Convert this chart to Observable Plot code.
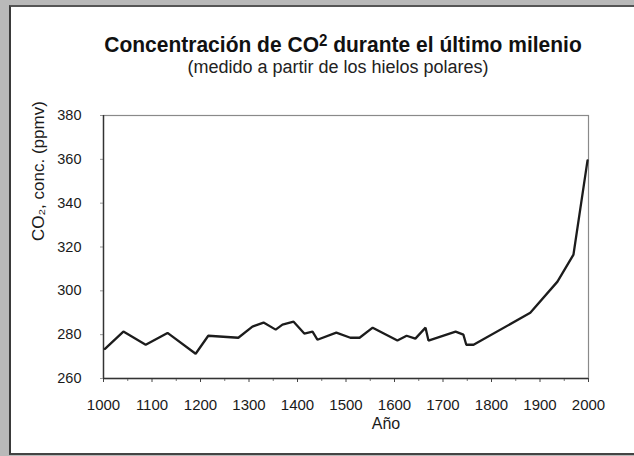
<!DOCTYPE html>
<html>
<head>
<meta charset="utf-8">
<script src="https://cdn.jsdelivr.net/npm/d3@7"></script>
<script src="https://cdn.jsdelivr.net/npm/@observablehq/plot@0.6"></script>
<style>
  body { margin: 0; }
  #page { position: relative; width: 634px; height: 456px; background: #b9b9b9; overflow: hidden; font-family: "Liberation Sans", Arial, sans-serif; }
  #panel { position: absolute; left: 9px; top: 5px; width: 640px; height: 446px; background: #fff; border-left: 2px solid #3a3a3a; border-top: 2px solid #555; border-bottom: 2px solid #444; }
  #title { position: absolute; left: 0; width: 686px; top: 32px; text-align: center; font-weight: bold; font-size: 21px; color: #111; transform: scaleY(1.08); white-space: nowrap; }
  #title sup { font-size: 0.72em; vertical-align: 0.32em; line-height: 0; }
  #subtitle { position: absolute; left: 0; width: 676px; top: 57px; text-align: center; font-size: 18px; color: #222; white-space: nowrap; }
  #chart { position: absolute; left: 0; top: 90px; }
</style>
</head>
<body>
<div id="page">
  <div id="panel"></div>
  <div id="title">Concentración de CO<sup>2</sup> durante el último milenio</div>
  <div id="subtitle">(medido a partir de los hielos polares)</div>
  <div id="chart"></div>
</div>
<script>
const years = [1003, 1041, 1087, 1132, 1190, 1216, 1278, 1307, 1330, 1355, 1369, 1392, 1414, 1431, 1441, 1480, 1509, 1528, 1555, 1606, 1625, 1643, 1664, 1670, 1726, 1742, 1748, 1763, 1880, 1936, 1969, 1998];
const co2 = [273.5, 281.4, 275.4, 280.8, 271.3, 279.5, 278.6, 283.7, 285.5, 282.3, 284.6, 285.9, 280.5, 281.4, 277.7, 280.9, 278.6, 278.6, 283.2, 277.3, 279.5, 278.2, 283.2, 277.3, 281.4, 280.0, 275.4, 275.4, 290.0, 304.2, 316.5, 359.5];
const xMajorTicks = [1000, 1100, 1200, 1300, 1400, 1500, 1600, 1700, 1800, 1900, 2000];
const xMinorTicks = [1050, 1150, 1250, 1350, 1450, 1550, 1650, 1750, 1850, 1950];
const yTicks = [260, 280, 300, 320, 340, 360, 380];
const yLabel = "CO\u2082, conc. (ppmv)";
const xLabel = "Año";

const data = years.map((y, i) => ({year: y, value: co2[i]}));

const chart = Plot.plot({
  width: 634,
  height: 366,
  marginLeft: 103,
  marginRight: 46,
  marginTop: 25,
  marginBottom: 78,
  style: {fontFamily: "'Liberation Sans', Arial, sans-serif", fontSize: "14px", color: "#1a1a1a", background: "transparent", overflow: "visible"},
  x: {domain: [1000, 2000]},
  y: {domain: [260, 380]},
  marks: [
    Plot.frame({stroke: "#8a8a8a", strokeWidth: 1.2}),
    Plot.axisY({ticks: yTicks, tickSize: 3, tickPadding: 19, tickFormat: d => String(d), stroke: "#999", label: null, fontSize: "14.5px"}),
    Plot.axisX({ticks: xMajorTicks, tickSize: 4, tickPadding: 17, tickFormat: d => String(d), stroke: "#444", label: null, fontSize: "15px"}),
    Plot.axisX({ticks: xMinorTicks, tickSize: 3, tickFormat: () => "", stroke: "#777", label: null}),
    Plot.ruleY([260], {stroke: "#333", strokeWidth: 1.4}),
    Plot.ruleX([1000], {stroke: "#333", strokeWidth: 1.4}),
    Plot.line(data, {x: "year", y: "value", stroke: "#1c1c1c", strokeWidth: 2.3, strokeLinejoin: "miter"}),
    Plot.text([yLabel], {frameAnchor: "left", rotate: -90, dx: -65, dy: -6, fontSize: 17, fill: "#1a1a1a"}),
    Plot.text([xLabel], {frameAnchor: "bottom", dx: 40, dy: 50, fontSize: 16, fill: "#1a1a1a"})
  ]
});
document.getElementById("chart").appendChild(chart);
</script>
</body>
</html>
